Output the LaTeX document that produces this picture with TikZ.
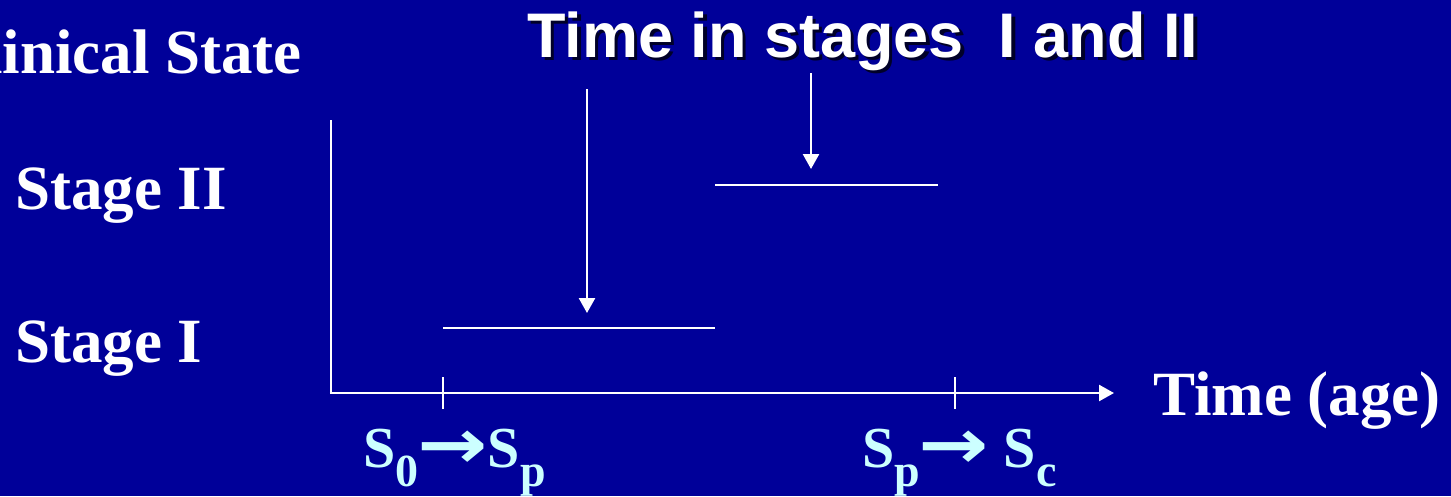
\documentclass[tikz,border=0pt]{standalone}
\usepackage{fontspec}
\setmainfont{Liberation Serif}
\newfontfamily\arialfont{Liberation Sans}
\newfontfamily\arrfont{DejaVu Sans}
\usetikzlibrary{arrows.meta}
\definecolor{bg}{RGB}{0,0,153}
\definecolor{lightcyan}{RGB}{204,255,255}
\definecolor{shadowc}{RGB}{0,0,40}
\tikzset{
  lbl/.style={text=white, font=\bfseries\fontsize{63}{70}\selectfont, inner sep=0pt},
  sublbl/.style={text=lightcyan, font=\bfseries\fontsize{58}{60}\selectfont, inner sep=0pt},
  ttl/.style={font=\arialfont\bfseries\fontsize{63}{70}\selectfont, inner sep=0pt},
  wline/.style={draw=white, line width=2pt},
  axis/.style={draw=white, line width=2.5pt},
  darrow/.style={draw=white, line width=2.5pt, -{Triangle[length=15pt,width=16pt]}}
}
\newcommand{\sbx}[1]{\raisebox{-0.34em}{\fontsize{46}{48}\selectfont #1}}
\newcommand{\bigarr}{\raisebox{-0.02em}{\scalebox{1.45}[1.2]{\arrfont\bfseries →}}}
\begin{document}
\begin{tikzpicture}[x=1pt,y=-1pt]
\useasboundingbox (0,0) rectangle (1451,496);
\clip (0,0) rectangle (1451,496);
\fill[bg] (0,0) rectangle (1451,496);
% texts
\node[lbl, anchor=base east] (cs) at (302,73) {Clinical State};
\node[lbl, anchor=base west] (s2) at (15,209) {Stage II};
\node[lbl, anchor=base west] (s1) at (15,362) {Stage I};
\node[lbl, anchor=base west] (ta) at (1153,415) {Time (age)};
\node[ttl, text=shadowc, anchor=base west] (tsh) at (530.5,60) {Time in stages\ \ I and II};
\node[ttl, text=white, anchor=base west] (tt) at (527,57.5) {Time in stages\ \ I and II};
\node[sublbl, anchor=base west] (l1) at (363,467) {S\sbx{0}\hspace{-0.02em}\bigarr\hspace{0.0em}S\sbx{p}};
\node[sublbl, anchor=base west] (l2) at (862,467) {S\sbx{p}\hspace{-0.02em}\bigarr\ S\sbx{c}};
% axes
\coordinate (o) at (331,393);
\coordinate (ytop) at (331,120);
\coordinate (xend) at (1114,393);
\draw[axis] (ytop) -- (o);
\draw[axis, -{Triangle[length=15pt,width=16pt]}] ([xshift=-1.25pt]o) -- (xend);
% ticks
\coordinate (t1a) at (443,377); \coordinate (t1b) at (443,409);
\coordinate (t2a) at (955,377); \coordinate (t2b) at (955,409);
\draw[wline] (t1a) -- (t1b);
\draw[wline] (t2a) -- (t2b);
% stage lines
\coordinate (a1) at (443,328); \coordinate (a2) at (715,328);
\coordinate (b1) at (715,185); \coordinate (b2) at (938,185);
\draw[wline] (a1) -- (a2);
\draw[wline] (b1) -- (b2);
% arrows
\coordinate (p1) at (587,89); \coordinate (q1) at (587,313);
\coordinate (p2) at (811,73); \coordinate (q2) at (811,169);
\draw[darrow] (p1) -- (q1);
\draw[darrow] (p2) -- (q2);
\end{tikzpicture}
\end{document}
